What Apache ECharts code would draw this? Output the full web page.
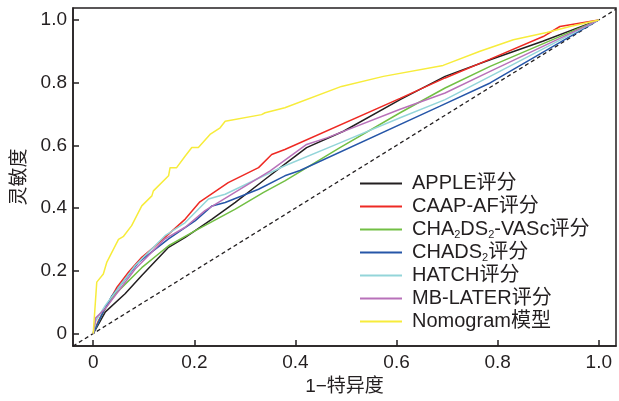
<!DOCTYPE html>
<html>
<head>
<meta charset="utf-8">
<script src="https://cdn.jsdelivr.net/npm/echarts@6/dist/echarts.min.js"></script>
<style>
  html, body { margin: 0; padding: 0; background: #fff; }
  #chart { width: 619px; height: 401px; }
</style>
</head>
<body>
<div id="chart"></div>
<script>
// tick values shared by both axes
var tickValues = [0, 0.2, 0.4, 0.6, 0.8, 1.0];

// ROC curves, [1-特异度, 灵敏度]
var appleRoc = [[0,0],[0.024,0.069],[0.063,0.127],[0.096,0.185],[0.149,0.275],[0.182,0.307],[0.235,0.365],[0.281,0.418],[0.34,0.492],[0.379,0.54],[0.422,0.593],[0.495,0.645],[0.607,0.746],[0.696,0.82],[0.785,0.873],[0.889,0.932],[1,1]];
var caapRoc = [[0,0],[0.01,0.04],[0.047,0.148],[0.07,0.196],[0.096,0.243],[0.123,0.28],[0.149,0.317],[0.182,0.365],[0.211,0.42],[0.267,0.481],[0.327,0.529],[0.353,0.571],[0.379,0.587],[0.607,0.75],[0.696,0.815],[0.785,0.875],[0.89,0.947],[0.923,0.979],[1,1]];
var cha2ds2Roc = [[0,0],[0.02,0.07],[0.043,0.125],[0.096,0.21],[0.149,0.28],[0.202,0.328],[0.281,0.397],[0.337,0.45],[0.379,0.487],[0.488,0.593],[0.607,0.704],[0.696,0.783],[0.785,0.852],[1,1]];
var chads2Roc = [[0,0],[0.02,0.07],[0.037,0.12],[0.09,0.228],[0.149,0.302],[0.202,0.36],[0.235,0.407],[0.261,0.418],[0.327,0.46],[0.379,0.503],[0.409,0.52],[0.686,0.725],[0.785,0.799],[1,1]];
var hatchRoc = [[0,0],[0.005,0.04],[0.024,0.09],[0.083,0.217],[0.142,0.312],[0.182,0.354],[0.228,0.429],[0.261,0.444],[0.379,0.535],[0.488,0.608],[0.607,0.688],[0.696,0.746],[0.785,0.82],[1,1]];
var mbLaterRoc = [[0,0],[0.005,0.05],[0.024,0.08],[0.083,0.206],[0.142,0.302],[0.182,0.339],[0.221,0.392],[0.35,0.519],[0.422,0.603],[0.462,0.624],[0.607,0.715],[0.696,0.767],[0.785,0.836],[1,1]];
var nomogramRoc = [[0,0],[0.007,0.164],[0.02,0.19],[0.027,0.228],[0.05,0.3],[0.06,0.31],[0.076,0.344],[0.096,0.407],[0.116,0.439],[0.119,0.455],[0.149,0.503],[0.152,0.529],[0.165,0.529],[0.182,0.566],[0.195,0.593],[0.208,0.593],[0.231,0.635],[0.251,0.656],[0.261,0.677],[0.333,0.698],[0.34,0.704],[0.379,0.72],[0.491,0.788],[0.574,0.82],[0.692,0.855],[0.765,0.9],[0.831,0.937],[0.897,0.96],[0.943,0.979],[1,1]];
var refLine = [[-0.04,-0.04],[1.034,1.034]];

var modelNames = ['APPLE评分', 'CAAP-AF评分', 'CHA2DS2-VASc评分', 'CHADS2评分', 'HATCH评分', 'MB-LATER评分', 'Nomogram模型'];
var modelData = [appleRoc, caapRoc, cha2ds2Roc, chads2Roc, hatchRoc, mbLaterRoc, nomogramRoc];
var modelColors = ['#231f20', '#ee2a24', '#72bf44', '#2656a8', '#93d5d9', '#b871b9', '#f7ec3b'];

var ink = '#231f20';
var font = '"Liberation Sans", "Noto Sans CJK SC", sans-serif';

var myChart = echarts.init(document.getElementById('chart'));

function tickFmt(v) {
  return v === 0 ? '0' : v.toFixed(1);
}

var series = [{
  type: 'line',
  data: refLine,
  symbol: 'none',
  silent: true,
  lineStyle: { color: ink, width: 1.3, type: [4, 3] }
}];
for (var i = 0; i < modelNames.length; i++) {
  series.push({
    name: modelNames[i],
    type: 'line',
    data: modelData[i],
    symbol: 'none',
    color: modelColors[i],
    lineStyle: { color: modelColors[i], width: 1.5 }
  });
}

var option = {
  animation: false,
  backgroundColor: '#fff',
  grid: {
    left: 73, right: 3, top: 8, bottom: 53,
    show: true,
    borderColor: ink,
    borderWidth: 1.5
  },
  legend: {
    data: modelNames,
    orient: 'vertical',
    left: 360,
    top: 173,
    padding: 0,
    itemGap: 2,
    icon: 'rect',
    itemWidth: 42,
    itemHeight: 2,
    formatter: function (name) {
      return name.replace(/(A|S)2/g, '$1{s|2}');
    },
    textStyle: {
      fontFamily: font,
      fontSize: 20,
      lineHeight: 21,
      color: ink,
      padding: [0, 0, 0, 5],
      rich: {
        s: { fontFamily: font, fontSize: 11, color: ink, verticalAlign: 'bottom', lineHeight: 21 }
      }
    }
  },
  xAxis: {
    type: 'value',
    min: -0.04,
    max: 1.034,
    name: '1−特异度',
    nameLocation: 'middle',
    nameGap: 26,
    nameTextStyle: { fontFamily: font, fontSize: 19, color: ink },
    axisLine: { show: true, onZero: false, lineStyle: { color: ink, width: 1.5 } },
    axisTick: { show: true, inside: true, length: 6, customValues: tickValues, lineStyle: { color: ink, width: 1.5 } },
    axisLabel: { customValues: tickValues, formatter: tickFmt, fontFamily: font, fontSize: 19, color: ink, margin: 7 },
    splitLine: { show: false }
  },
  yAxis: {
    type: 'value',
    min: -0.04,
    max: 1.038,
    name: '灵敏度',
    nameLocation: 'middle',
    nameGap: 37,
    nameTextStyle: { fontFamily: font, fontSize: 19, color: ink },
    axisLine: { show: true, onZero: false, lineStyle: { color: ink, width: 1.5 } },
    axisTick: { show: true, inside: true, length: 6, customValues: tickValues, lineStyle: { color: ink, width: 1.5 } },
    axisLabel: { customValues: tickValues, formatter: tickFmt, fontFamily: font, fontSize: 19, color: ink, margin: 6 },
    splitLine: { show: false }
  },
  series: series
};

myChart.setOption(option);
</script>
</body>
</html>
